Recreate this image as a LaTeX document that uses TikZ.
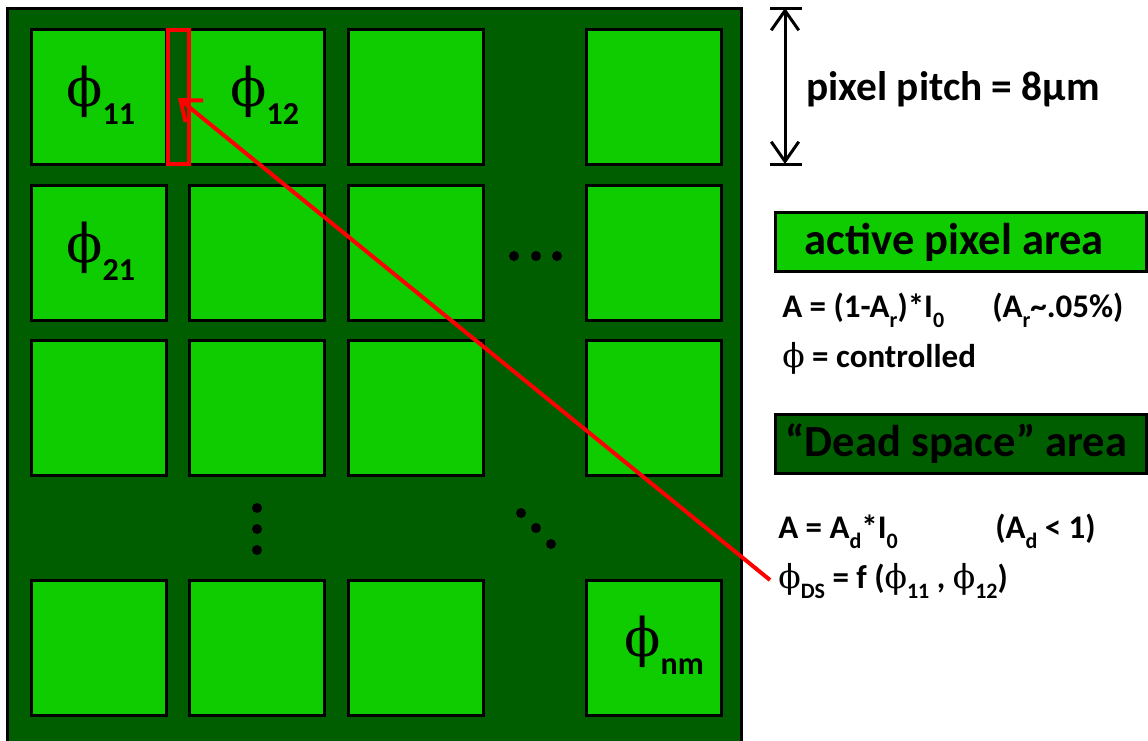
\documentclass[tikz,border=0pt]{standalone}
\usepackage{fontspec}
\setmainfont{Carlito}
\newfontfamily\phifont{DejaVu Serif}
\usetikzlibrary{arrows.meta}

\definecolor{pixgreen}{RGB}{14,204,0}
\definecolor{deadgreen}{RGB}{0,94,0}
\definecolor{arrowred}{RGB}{255,0,0}

% upright phi
\newcommand{\phig}{{\phifont\mdseries ϕ}}
% phi label inside a pixel, with its index
\newcommand{\pixphi}[1]{{\fontsize{40}{40}\selectfont\phig}\raisebox{-14pt}{\fontsize{24}{24}\selectfont #1}}
% lowered index in the formulas
\newcommand{\lowsub}[1]{\raisebox{-8pt}{\fontsize{16.5}{16.5}\selectfont #1}}

\begin{document}
\begin{tikzpicture}[x=0.75pt,y=-0.75pt,
    pixel/.style={draw=black,line width=2.25pt,fill=pixgreen},
    gapdot/.style={fill=black,circle,inner sep=0pt,minimum size=7.5pt},
    legend/.style={draw=black,line width=2pt,minimum width=278pt,minimum height=44pt,
        inner sep=0pt,font=\fontsize{33.4}{33.4}\selectfont\bfseries},
    formula/.style={anchor=base west,inner sep=0pt,font=\fontsize{24.75}{24.75}\selectfont\bfseries},
    pixlabel/.style={anchor=base west,inner sep=0pt,font=\bfseries}]

\useasboundingbox (0,0) rectangle (1148,740);

% Sensor (dead space)
\fill[deadgreen,draw=black,line width=2.25pt] (7,8) rectangle (741,760);

% Pixel grid
\foreach \x in {31,189,348,586}
    \foreach \y in {29,185,340,580}
        \draw[pixel] (\x,\y) rectangle ++(135,135);

% Dots
\foreach \i/\x in {1/514,2/536,3/557}
    \node[gapdot] (hdot\i) at (\x,256) {};
\foreach \i/\y in {1/508,2/529,3/550}
    \node[gapdot] (vdot\i) at (257,\y) {};
\foreach \i/\x/\y in {1/521/513,2/536/528,3/551/544}
    \node[gapdot] (ddot\i) at (\x,\y) {};

% Pixel labels
\node[pixlabel] (phi11) at (66,106) {\pixphi{11}};
\node[pixlabel] (phi12) at (230,106) {\pixphi{12}};
\node[pixlabel] (phi21) at (66,262) {\pixphi{21}};
\node[pixlabel] (phinm) at (624,656) {\pixphi{nm}};

% Pitch
\coordinate (pitchtop) at (785,8);
\coordinate (pitchbot) at (785,164);
\draw[line width=2.25pt,{Straight Barb[angle=70:18pt]}-{Straight Barb[angle=70:18pt]}] (pitchtop) -- (pitchbot);
\draw[line width=2.25pt] (770,8) -- (802,8) (770,164) -- (802,164);
\node[anchor=base west,inner sep=0pt,font=\fontsize{31}{31}\selectfont\bfseries] (pitchlabel) at (806,100) {pixel pitch = 8μm};

% Legend
\node[legend,fill=pixgreen] (activebox) at (961,242) {active pixel area\hspace*{10pt}};
\node[formula] (activeA) at (782,317) {A = (1-A\lowsub{r})*I\lowsub{0}};
\node[formula] (activeAr) at (992,317) {(A\lowsub{r}\textasciitilde.05\%)};
\node[formula] (activephi) at (782,367) {\phig{} = controlled};

\node[legend,fill=deadgreen] (deadbox) at (961,444) {“Dead space” area\hspace*{7pt}};
\node[formula] (deadA) at (778,538) {A = A\lowsub{d}*I\lowsub{0}};
\node[formula] (deadAd) at (995,538) {(A\lowsub{d} < 1)};
\node[formula] (deadphi) at (778,588) {\phig\lowsub{DS} = f (\phig\lowsub{11} , \phig\lowsub{12})};

% Dead space between phi11 and phi12
\draw[arrowred,line width=3pt,fill=deadgreen] (168,30) rectangle (189,164);
\coordinate (dsstart) at (770,580);
\coordinate (dstip) at (178,98);
\draw[arrowred,line width=3pt,-{Straight Barb[angle=76:17pt]}] (dsstart) -- (dstip);

\end{tikzpicture}
\end{document}
